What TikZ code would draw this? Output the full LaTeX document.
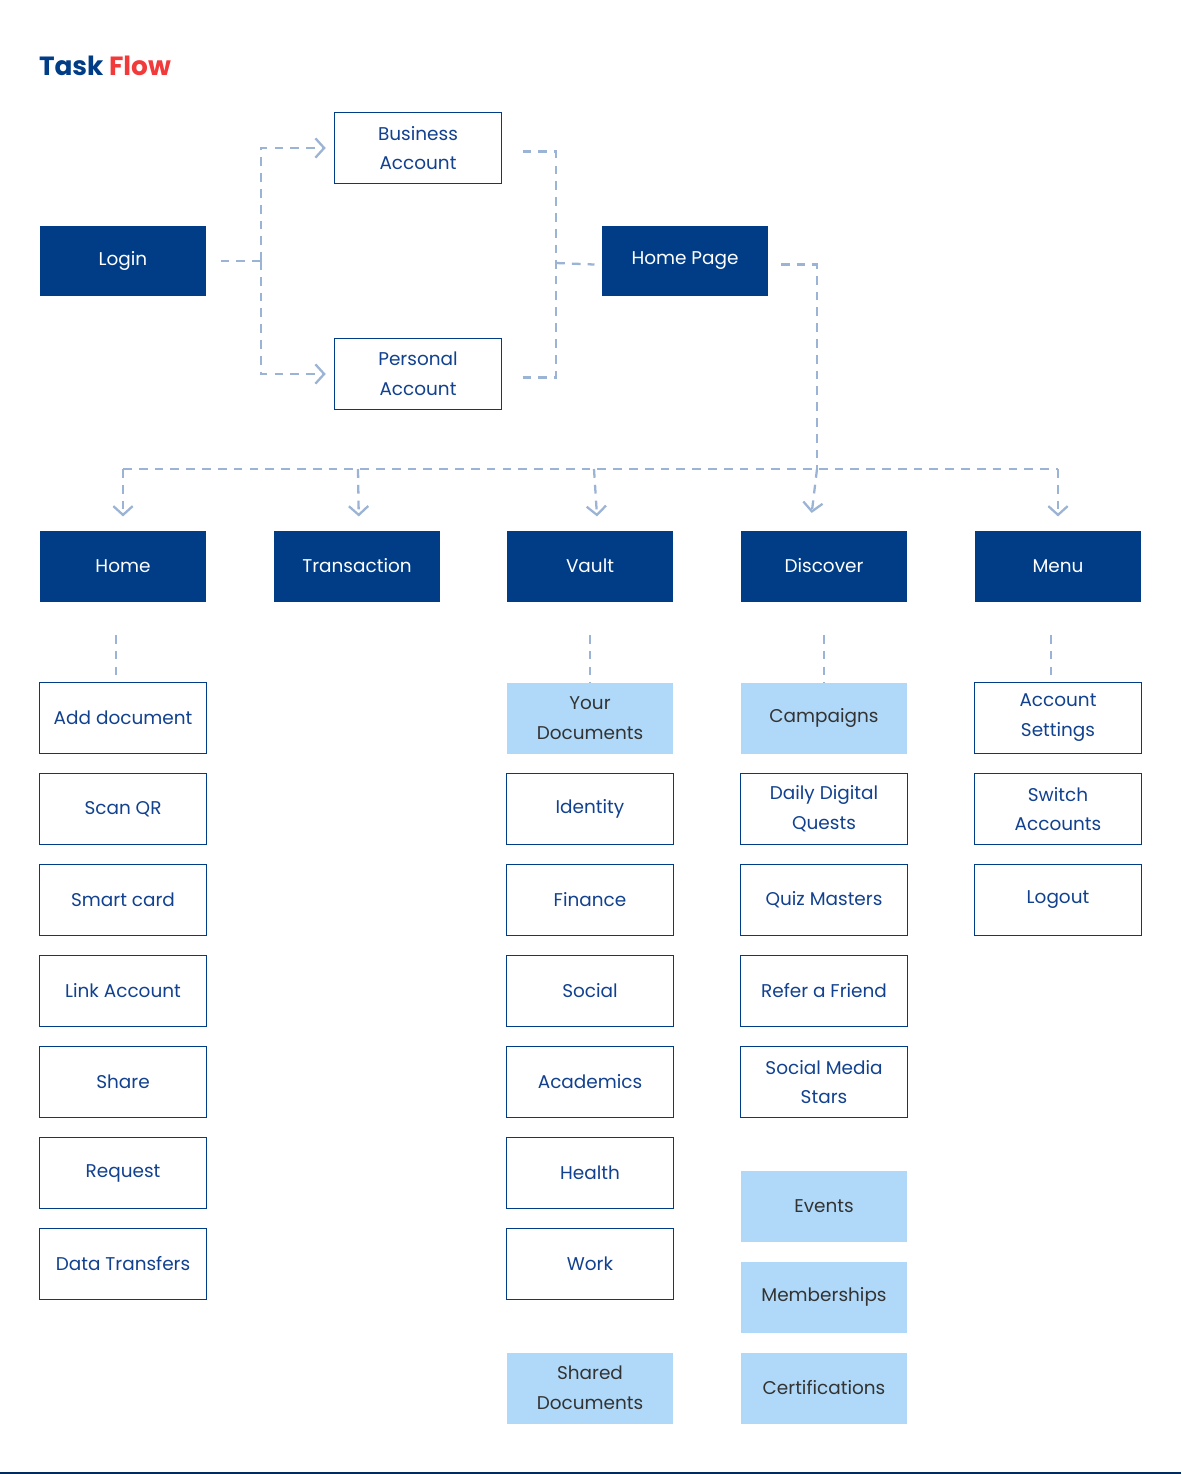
\documentclass[tikz,border=0pt]{standalone}
\usepackage{fontspec}
\setmainfont{Poppins}
\usetikzlibrary{arrows.meta}
\definecolor{navy}{HTML}{003D86}
\definecolor{sky}{HTML}{B0D9F9}
\definecolor{flow}{HTML}{9BB3D4}
\definecolor{ink}{HTML}{11418F}
\definecolor{accent}{HTML}{F23A3A}
\begin{document}
\begin{tikzpicture}[x=0.02cm, y=-0.02cm, font=\fontsize{10.5}{17}\selectfont,
    every node/.style={minimum width=3.34cm, minimum height=1.42cm, outer sep=0pt, align=center, inner sep=0pt},
    dark/.style={fill=navy, text=white},
    plain/.style={draw=navy, line width=0.6pt, text=ink, fill=white},
    light/.style={fill=sky, text=black!80},
    link/.style={draw=flow, line width=1.3pt, dash pattern=on 5pt off 4pt},
    tip/.style={link, -{Straight Barb[length=5pt, width=11pt, line width=1.3pt]}}]
    \useasboundingbox (0, 0) rectangle (1181, 1474);
    \draw[navy!70!black, line width=1pt] (0, 1473) -- (1181, 1473);
    \node[minimum width=0pt, minimum height=0pt, anchor=west, font=\fontsize{15}{18}\selectfont\bfseries] (title) at (39, 66) {\textcolor{navy}{Task} \textcolor{accent}{Flow}};
    % top part
    \node[dark] (login) at (123, 261) {Login};
    \node[plain] (business) at (418, 148) {Business\\Account};
    \node[plain] (personal) at (418, 374) {Personal\\Account};
    \node[dark] (homepage) at (685, 261) {Home Page};
    \coordinate (split) at (261, 261);
    \coordinate (join) at (556, 263);
    \coordinate (bus) at (817, 469);
    \draw[link] ([xshift=8pt]login.east) -- (split);
    \draw[tip] (split) |- ([xshift=-5pt]business.west);
    \draw[tip] (split) |- ([xshift=-5pt]personal.west);
    \draw[link] ([xshift=12pt, yshift=-2pt]business.east) -| (join);
    \draw[link] ([xshift=12pt, yshift=-2pt]personal.east) -| (join);
    \draw[link] (join) -- ([xshift=-4pt, yshift=-2pt]homepage.west);
    % second level
    \node[dark] (home) at (123, 566) {Home};
    \node[dark] (transaction) at (357, 566) {Transaction};
    \node[dark] (vault) at (590, 566) {Vault};
    \node[dark] (discover) at (824, 566) {Discover};
    \node[dark] (menu) at (1058, 566) {Menu};
    \draw[link] ([xshift=7pt, yshift=-2pt]homepage.east) -| (bus);
    \draw[tip] (bus) -- ([xshift=-7pt, yshift=10pt]discover.north);
    \draw[link] (123, 469) -- (1058, 469);
    \draw[tip] (123, 469) -- ([yshift=8pt]home.north);
    \draw[tip] (358, 469) -- ([xshift=1pt, yshift=8pt]transaction.north);
    \draw[tip] (594, 469) -- ([xshift=4pt, yshift=8pt]vault.north);
    \draw[tip] (1058, 469) -- ([yshift=8pt]menu.north);
    \draw[tip] ([xshift=-4pt, yshift=-19pt]home.south) -- ([xshift=-4pt, yshift=-62pt]home.south);
    \draw[tip] ([yshift=-19pt]vault.south) -- ([yshift=-62pt]vault.south);
    \draw[tip] ([yshift=-19pt]discover.south) -- ([yshift=-62pt]discover.south);
    \draw[tip] ([xshift=-4pt, yshift=-19pt]menu.south) -- ([xshift=-4pt, yshift=-62pt]menu.south);
    % home column
    \node[plain] (adddoc) at (123, 718) {Add document};
    \node[plain] (scanqr) at (123, 809) {Scan QR};
    \node[plain] (smartcard) at (123, 900) {Smart card};
    \node[plain] (linkacc) at (123, 991) {Link Account};
    \node[plain] (share) at (123, 1082) {Share};
    \node[plain] (request) at (123, 1173) {Request};
    \node[plain] (datatrans) at (123, 1264) {Data Transfers};
    % vault column
    \node[light] (yourdocs) at (590, 718) {Your\\Documents};
    \node[plain] (identity) at (590, 809) {Identity};
    \node[plain] (finance) at (590, 900) {Finance};
    \node[plain] (social) at (590, 991) {Social};
    \node[plain] (academics) at (590, 1082) {Academics};
    \node[plain] (health) at (590, 1173) {Health};
    \node[plain] (work) at (590, 1264) {Work};
    \node[light] (shareddocs) at (590, 1388) {Shared\\Documents};
    % discover column
    \node[light] (campaigns) at (824, 718) {Campaigns};
    \node[plain] (quests) at (824, 809) {Daily Digital\\Quests};
    \node[plain] (quiz) at (824, 900) {Quiz Masters};
    \node[plain] (refer) at (824, 991) {Refer a Friend};
    \node[plain] (stars) at (824, 1082) {Social Media\\Stars};
    \node[light] (events) at (824, 1206) {Events};
    \node[light] (members) at (824, 1297) {Memberships};
    \node[light] (certs) at (824, 1388) {Certifications};
    % menu column
    \node[plain] (settings) at (1058, 718) {Account\\Settings};
    \node[plain] (switch) at (1058, 809) {Switch\\Accounts};
    \node[plain] (logout) at (1058, 900) {Logout};
\end{tikzpicture}
\end{document}
